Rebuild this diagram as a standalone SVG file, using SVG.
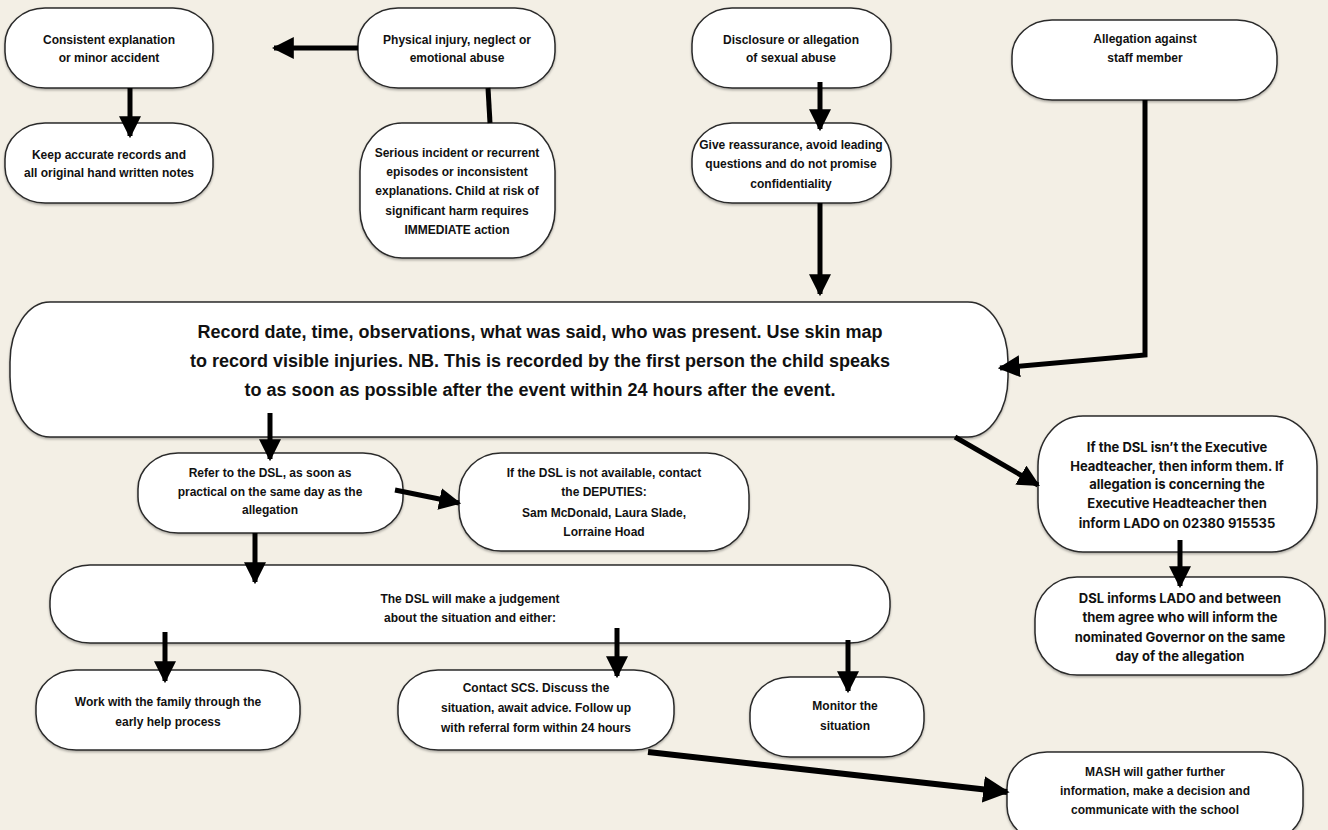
<svg xmlns="http://www.w3.org/2000/svg" width="1328" height="830" viewBox="0 0 1328 830">
<style>
.bg{fill:#f3efe5}
.box{fill:#fff;stroke:#2a2a2a;stroke-width:1.5;filter:url(#sh)}
.t{font-family:"Liberation Sans",Arial,sans-serif;font-weight:bold;font-size:12px;fill:#111;text-anchor:middle}
.tb{font-family:"Liberation Sans",Arial,sans-serif;font-weight:bold;font-size:18px;fill:#111;text-anchor:middle}
.ti{font-family:Inter,"Liberation Sans",sans-serif;font-weight:bold;font-size:13px;fill:#111;text-anchor:middle}
.c{fill:none;stroke:#000;stroke-width:5}
</style>
<defs>
<filter id="sh" x="-5%" y="-5%" width="110%" height="115%">
<feDropShadow dx="0" dy="1.5" stdDeviation="1" flood-color="#000" flood-opacity="0.3"/>
</filter>
<marker id="ah" viewBox="0 0 10 10" refX="9" refY="5" markerWidth="4.4" markerHeight="4.4" orient="auto" markerUnits="strokeWidth">
<path d="M0,0 L10,5 L0,10 z" fill="#000"/>
</marker>
</defs>
<rect class="bg" x="0" y="0" width="1328" height="830"/>
<g id="n-consistent">
<rect class="box" x="5" y="8" width="208" height="80" rx="40" ry="36"/>
<text class="t" x="109" y="44">Consistent explanation</text>
<text class="t" x="109" y="62">or minor accident</text>
</g>
<g id="n-physical">
<rect class="box" x="358" y="8" width="197" height="80" rx="40" ry="36"/>
<text class="t" x="457" y="44">Physical injury, neglect or</text>
<text class="t" x="457" y="62">emotional abuse</text>
</g>
<g id="n-keep">
<rect class="box" x="5" y="123" width="208" height="80" rx="40" ry="36"/>
<text class="t" x="109" y="159">Keep accurate records and</text>
<text class="t" x="109" y="177">all original hand written notes</text>
</g>
<g id="n-serious">
<rect class="box" x="360" y="123" width="195" height="135" rx="42" ry="48"/>
<text class="t" x="457" y="157">Serious incident or recurrent</text>
<text class="t" x="457" y="176">episodes or inconsistent</text>
<text class="t" x="457" y="195">explanations. Child at risk of</text>
<text class="t" x="457" y="215">significant harm requires</text>
<text class="t" x="457" y="234">IMMEDIATE action</text>
</g>
<g id="n-disclosure">
<rect class="box" x="692" y="8" width="199" height="80" rx="40" ry="36"/>
<text class="t" x="791" y="44">Disclosure or allegation</text>
<text class="t" x="791" y="62">of sexual abuse</text>
</g>
<g id="n-reassure">
<rect class="box" x="692" y="123" width="199" height="80" rx="40" ry="36"/>
<text class="t" x="791" y="149">Give reassurance, avoid leading</text>
<text class="t" x="791" y="168">questions and do not promise</text>
<text class="t" x="791" y="188">confidentiality</text>
</g>
<g id="n-staff">
<rect class="box" x="1012" y="20" width="265" height="80" rx="40" ry="36"/>
<text class="t" x="1145" y="43">Allegation against</text>
<text class="t" x="1145" y="62">staff member</text>
</g>
<g id="n-record">
<rect class="box" x="10" y="302" width="998" height="135" rx="40" ry="60"/>
<text class="tb" x="540" y="338">Record date, time, observations, what was said, who was present. Use skin map</text>
<text class="tb" x="540" y="367">to record visible injuries. NB. This is recorded by the first person the child speaks</text>
<text class="tb" x="540" y="396">to as soon as possible after the event within 24 hours after the event.</text>
</g>
<g id="n-refer">
<rect class="box" x="138" y="453" width="265" height="80" rx="40" ry="36"/>
<text class="t" x="270" y="477">Refer to the DSL, as soon as</text>
<text class="t" x="270" y="496">practical on the same day as the</text>
<text class="t" x="270" y="514">allegation</text>
</g>
<g id="n-deputies">
<rect class="box" x="459" y="453" width="290" height="98" rx="42" ry="42"/>
<text class="t" x="604" y="477">If the DSL is not available, contact</text>
<text class="t" x="604" y="496">the DEPUTIES:</text>
<text class="t" x="604" y="517">Sam McDonald, Laura Slade,</text>
<text class="t" x="604" y="536">Lorraine Hoad</text>
</g>
<g id="n-judgement">
<rect class="box" x="50" y="565" width="840" height="78" rx="40" ry="36"/>
<text class="t" x="470" y="603">The DSL will make a judgement</text>
<text class="t" x="470" y="622">about the situation and either:</text>
</g>
<g id="n-family">
<rect class="box" x="36" y="670" width="264" height="80" rx="40" ry="36"/>
<text class="t" x="168" y="706">Work with the family through the</text>
<text class="t" x="168" y="726">early help process</text>
</g>
<g id="n-scs">
<rect class="box" x="398" y="670" width="276" height="80" rx="40" ry="36"/>
<text class="t" x="536" y="692">Contact SCS. Discuss the</text>
<text class="t" x="536" y="712">situation, await advice. Follow up</text>
<text class="t" x="536" y="732">with referral form within 24 hours</text>
</g>
<g id="n-monitor">
<rect class="box" x="750" y="677" width="174" height="80" rx="40" ry="36"/>
<text class="t" x="845" y="710">Monitor the</text>
<text class="t" x="845" y="730">situation</text>
</g>
<g id="n-mash">
<rect class="box" x="1007" y="752" width="296" height="90" rx="40" ry="36"/>
<text class="t" x="1155" y="776">MASH will gather further</text>
<text class="t" x="1155" y="795">information, make a decision and</text>
<text class="t" x="1155" y="814">communicate with the school</text>
</g>
<g id="n-exec">
<rect class="box" x="1038" y="416" width="279" height="136" rx="45" ry="50"/>
<text class="ti" x="1177" y="452">If the DSL isn’t the Executive</text>
<text class="ti" x="1177" y="471">Headteacher, then inform them. If</text>
<text class="ti" x="1177" y="489">allegation is concerning the</text>
<text class="ti" x="1177" y="508">Executive Headteacher then</text>
<text class="ti" x="1177" y="528">inform LADO on 02380 915535</text>
</g>
<g id="n-lado">
<rect class="box" x="1035" y="577" width="290" height="98" rx="42" ry="42"/>
<text class="ti" x="1180" y="603">DSL informs LADO and between</text>
<text class="ti" x="1180" y="622">them agree who will inform the</text>
<text class="ti" x="1180" y="642">nominated Governor on the same</text>
<text class="ti" x="1180" y="661">day of the allegation</text>
</g>
<g id="connectors">
<line class="c" x1="358" y1="48" x2="274" y2="48" marker-end="url(#ah)"/>
<line class="c" x1="130" y1="88" x2="130" y2="136" marker-end="url(#ah)"/>
<line class="c" x1="488" y1="88" x2="490" y2="123"/>
<line class="c" x1="820" y1="82" x2="820" y2="129" marker-end="url(#ah)"/>
<line class="c" x1="820" y1="203" x2="820" y2="294" marker-end="url(#ah)"/>
<polyline class="c" points="1145,100 1145,355 1000,368" marker-end="url(#ah)"/>
<line class="c" x1="270" y1="413" x2="270" y2="459" marker-end="url(#ah)"/>
<line class="c" x1="395" y1="490" x2="459" y2="503" marker-end="url(#ah)"/>
<line class="c" x1="255" y1="533" x2="255" y2="582" marker-end="url(#ah)"/>
<line class="c" x1="165" y1="632" x2="165" y2="681" marker-end="url(#ah)"/>
<line class="c" x1="617" y1="628" x2="617" y2="676" marker-end="url(#ah)"/>
<line class="c" x1="848" y1="640" x2="848" y2="691" marker-end="url(#ah)"/>
<line class="c" x1="648" y1="752" x2="1007" y2="792" marker-end="url(#ah)" style="stroke-width:6"/>
<line class="c" x1="955" y1="437" x2="1038" y2="485" marker-end="url(#ah)"/>
<line class="c" x1="1180" y1="540" x2="1180" y2="586" marker-end="url(#ah)"/>
</g>
</svg>
